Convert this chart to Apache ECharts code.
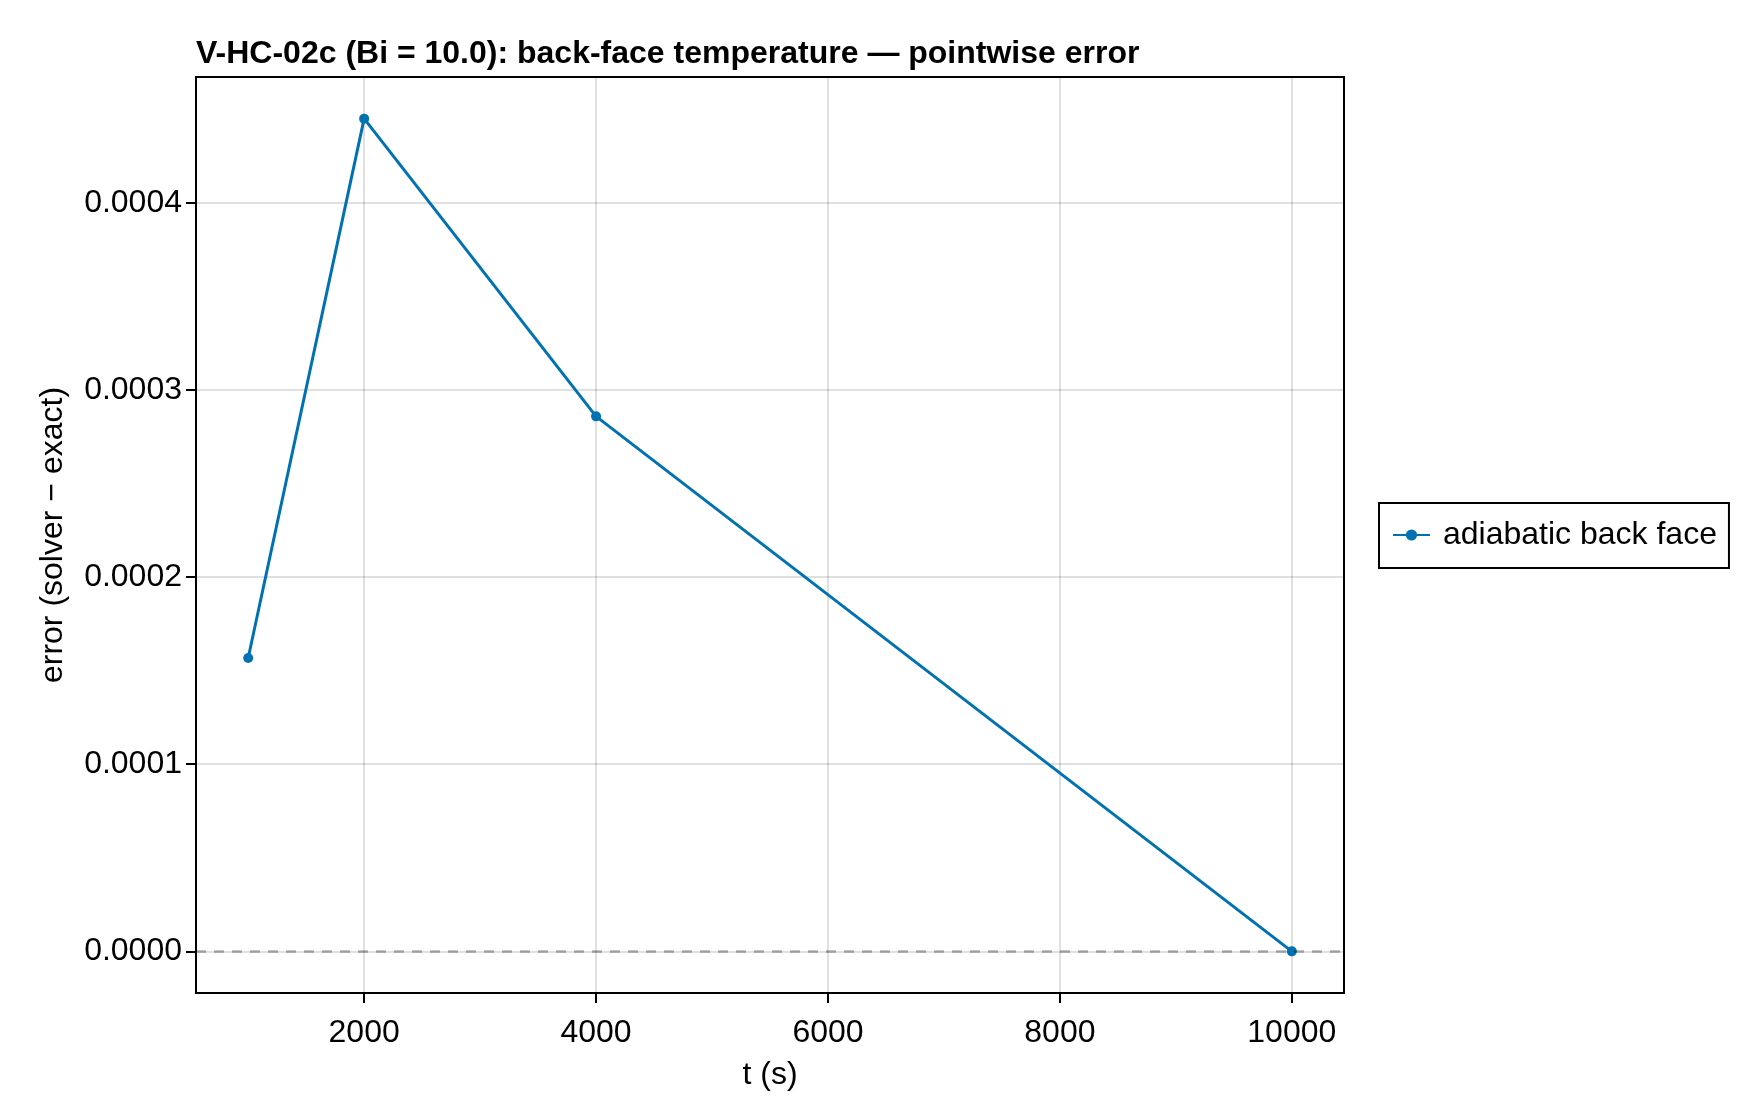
<!DOCTYPE html>
<html>
<head>
<meta charset="utf-8">
<title>V-HC-02c back-face temperature error</title>
<script src="https://cdn.jsdelivr.net/npm/echarts@6/dist/echarts.min.js"></script>
<style>
  html, body { margin: 0; padding: 0; background: #fff; }
  #chart { width: 1760px; height: 1120px; }
</style>
</head>
<body>
<div id="chart"></div>
<script>
// data
var tValues = [1000, 2000, 4000, 10000];
var errValues = [0.0001568, 0.000445, 0.0002859, 0.0];
var xTicks = [2000, 4000, 6000, 8000, 10000];
var yTicks = [0, 0.0001, 0.0002, 0.0003, 0.0004];
var seriesName = 'adiabatic back face';

var FONT = 'Liberation Sans';
var BLUE = '#0072B2';

var points = [];
for (var i = 0; i < tValues.length; i++) {
    points.push([tValues[i], errValues[i]]);
}

var chart = echarts.init(document.getElementById('chart'));

var option = {
    backgroundColor: '#fff',
    animation: false,
    textStyle: { fontFamily: FONT },
    title: {
        text: 'V-HC-02c (Bi = 10.0): back-face temperature \u2014 pointwise error',
        left: 196,
        top: 38,
        padding: 0,
        textStyle: { fontFamily: FONT, fontSize: 32, fontWeight: 'bold', color: '#000' }
    },
    grid: {
        left: 196,
        right: 416,
        top: 77,
        bottom: 127,
        show: true,
        borderColor: '#000',
        borderWidth: 2,
        containLabel: false
    },
    legend: {
        data: [seriesName],
        orient: 'vertical',
        left: 1379,
        top: 503,
        padding: [16, 12, 17, 13],
        borderColor: '#000',
        borderWidth: 2,
        itemWidth: 37,
        itemHeight: 14,
        textStyle: { fontFamily: FONT, fontSize: 32, color: '#000', padding: [0, 0, 0, 8] }
    },
    xAxis: {
        type: 'value',
        min: 550,
        max: 10450,
        name: 't (s)',
        nameLocation: 'middle',
        nameGap: 66,
        nameTextStyle: { fontFamily: FONT, fontSize: 32, color: '#000' },
        axisLine: { show: true, onZero: false, lineStyle: { color: '#000', width: 2 } },
        axisTick: { show: true, inside: false, length: 10, customValues: xTicks, lineStyle: { color: '#000', width: 2 } },
        axisLabel: {
            customValues: xTicks,
            margin: 24,
            fontFamily: FONT,
            fontSize: 32,
            color: '#000',
            formatter: function (v) { return String(v); }
        },
        splitLine: { show: true, lineStyle: { color: 'rgba(0,0,0,0.12)', width: 2 } }
    },
    yAxis: {
        type: 'value',
        min: -0.00002225,
        max: 0.00046725,
        name: 'error (solver \u2212 exact)',
        nameLocation: 'middle',
        nameGap: 127,
        nameTextStyle: { fontFamily: FONT, fontSize: 32, color: '#000' },
        axisLine: { show: true, onZero: false, lineStyle: { color: '#000', width: 2 } },
        axisTick: { show: true, inside: false, length: 10, customValues: yTicks, lineStyle: { color: '#000', width: 2 } },
        axisLabel: {
            customValues: yTicks,
            margin: 14,
            fontFamily: FONT,
            fontSize: 32,
            color: '#000',
            formatter: function (v) { return v.toFixed(4); }
        },
        splitLine: { show: true, lineStyle: { color: 'rgba(0,0,0,0.12)', width: 2 } }
    },
    series: [
        {
            name: seriesName,
            type: 'line',
            data: points,
            color: BLUE,
            symbol: 'circle',
            symbolSize: 10,
            showSymbol: true,
            lineStyle: { color: BLUE, width: 3 },
            itemStyle: { color: BLUE },
            markLine: {
                silent: true,
                symbol: ['none', 'none'],
                label: { show: false },
                lineStyle: { color: 'rgba(0,0,0,0.3)', type: [10, 8], width: 2.5 },
                data: [{ yAxis: 0 }]
            },
            z: 3
        }
    ]
};

chart.setOption(option);
</script>
</body>
</html>
